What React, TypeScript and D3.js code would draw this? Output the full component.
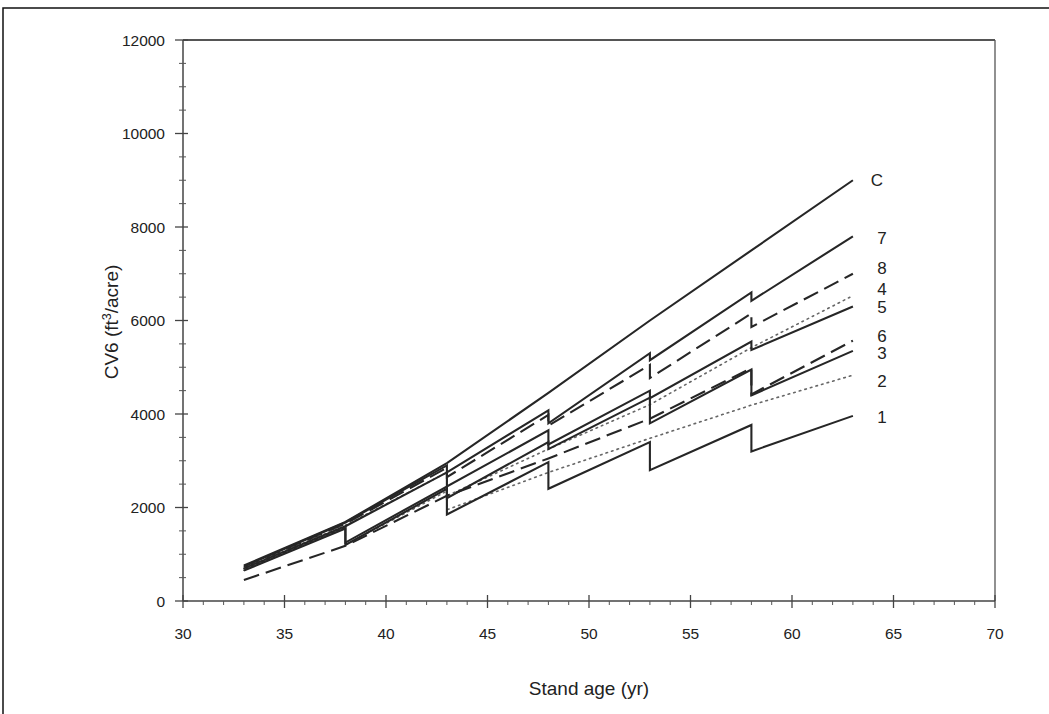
import React from "react";
import * as d3 from "d3";

// Stand age (yr) vs CV6 volume (ft3/acre) for the control stand and eight thinning regimes.
// A repeated age marks a thinning: volume just before and just after removal.
const seriesC: [number, number][] = [[33, 760], [38, 1690], [43, 2950], [48, 4450], [53, 6000], [58, 7500], [63, 9000]];
const series7: [number, number][] = [[33, 740], [38, 1680], [43, 2900], [43, 2750], [48, 4080], [48, 3800], [53, 5300], [53, 5150], [58, 6600], [58, 6420], [63, 7800]];
const series8: [number, number][] = [[33, 720], [38, 1650], [43, 2850], [43, 2650], [48, 3980], [48, 3750], [53, 5050], [53, 4770], [58, 6150], [58, 5860], [63, 7000]];
const series4: [number, number][] = [[33, 700], [38, 1620], [43, 2750], [43, 2250], [48, 3250], [53, 4200], [58, 5420], [63, 6530]];
const series5: [number, number][] = [[33, 690], [38, 1600], [43, 2750], [43, 2450], [48, 3650], [48, 3350], [53, 4500], [53, 4340], [58, 5550], [58, 5370], [63, 6300]];
const series6: [number, number][] = [[33, 450], [38, 1180], [43, 2250], [48, 3050], [53, 3900], [58, 4980], [58, 4420], [63, 5570]];
const series3: [number, number][] = [[33, 680], [38, 1580], [38, 1250], [43, 2450], [43, 2200], [48, 3400], [48, 3250], [53, 4350], [53, 3800], [58, 4950], [58, 4400], [63, 5350]];
const series2: [number, number][] = [[33, 660], [38, 1560], [38, 1200], [43, 2350], [43, 1950], [48, 2750], [53, 3480], [58, 4190], [63, 4830]];
const series1: [number, number][] = [[33, 650], [38, 1550], [38, 1200], [43, 2400], [43, 1850], [48, 2970], [48, 2400], [53, 3400], [53, 2800], [58, 3765], [58, 3200], [63, 3960]];

const seriesNames = ["C", "7", "8", "4", "5", "6", "3", "2", "1"];
const seriesData = [seriesC, series7, series8, series4, series5, series6, series3, series2, series1];
const seriesStyle = ["solid", "solid", "dashed", "dotted", "solid", "dashed", "solid", "dotted", "solid"];

const xTicks = [30, 35, 40, 45, 50, 55, 60, 65, 70];
const yTicks = [0, 2000, 4000, 6000, 8000, 10000, 12000];

const W = 1049;
const H = 714;
const FONT = "Arial, 'Liberation Sans', sans-serif";
const INK = "#262626";
const TEXT = "#222";

// nudges that keep the stacked end labels apart
const labelDy: Record<string, number> = { C: 6, "7": 8, "8": 0, "4": -1, "5": 7, "6": 1, "3": 8, "2": 12, "1": 7 };

export default function App() {
  const x = d3.scaleLinear().domain([30, 70]).range([183, 995]);
  const y = d3.scaleLinear().domain([0, 12000]).range([601, 40]);
  const line = d3
    .line<[number, number]>()
    .x((d) => x(d[0]))
    .y((d) => y(d[1]));

  const xMinor = d3.range(30, 71, 1).filter((v) => v % 5 !== 0);
  const yMinor = d3.range(0, 12001, 500).filter((v) => v % 2000 !== 0);

  const dashFor = (s: string) => (s === "dashed" ? "16 7" : s === "dotted" ? "1.6 4.2" : undefined);

  return (
    <svg
      width={W}
      height={H}
      style={{ position: "absolute", left: 0, top: 0, background: "#fff" }}
      fontFamily={FONT}
    >
      {/* page border */}
      <path d={`M3,${H + 2} V8 H${W + 2}`} fill="none" stroke="#111" strokeWidth={1.5} />

      {/* plot frame */}
      <line x1={x(30)} x2={x(70)} y1={y(12000)} y2={y(12000)} stroke="#555" strokeWidth={2} />
      <line x1={x(70)} x2={x(70)} y1={y(12000)} y2={y(0)} stroke="#555" strokeWidth={1.3} />
      <line x1={x(30)} x2={x(70)} y1={y(0)} y2={y(0)} stroke="#444" strokeWidth={1.5} />
      <line x1={x(30)} x2={x(30)} y1={y(0)} y2={y(12000)} stroke="#444" strokeWidth={1.5} />

      {/* y axis ticks */}
      {yTicks.map((v) => (
        <g key={"yt" + v}>
          <line x1={x(30) - 8} x2={x(30) + 5} y1={y(v)} y2={y(v)} stroke="#444" strokeWidth={1.3} />
          <text x={165} y={y(v) + 5.5} textAnchor="end" fontSize={15.5} fill={TEXT}>
            {v}
          </text>
        </g>
      ))}
      {yMinor.map((v) => (
        <line key={"ym" + v} x1={x(30) - 4} x2={x(30) + 3} y1={y(v)} y2={y(v)} stroke="#555" strokeWidth={1} />
      ))}

      {/* x axis ticks */}
      {xTicks.map((v) => (
        <g key={"xt" + v}>
          <line x1={x(v)} x2={x(v)} y1={y(0) - 6} y2={y(0) + 7} stroke="#444" strokeWidth={1.3} />
          <text x={x(v)} y={639} textAnchor="middle" fontSize={15.5} fill={TEXT}>
            {v}
          </text>
        </g>
      ))}
      {xMinor.map((v) => (
        <line key={"xm" + v} x1={x(v)} x2={x(v)} y1={y(0)} y2={y(0) + 4} stroke="#555" strokeWidth={1} />
      ))}

      {/* axis titles */}
      <text x={589} y={695} textAnchor="middle" fontSize={19} fill={TEXT}>
        Stand age (yr)
      </text>
      <text transform="translate(118,322) rotate(-90)" textAnchor="middle" fontSize={19} fill={TEXT}>
        CV6 (ft
        <tspan fontSize={12.5} dy={-7}>
          3
        </tspan>
        <tspan dy={7}>/acre)</tspan>
      </text>

      {/* series */}
      {seriesData.map((pts, i) => {
        const style = seriesStyle[i];
        return (
          <path
            key={"s" + seriesNames[i]}
            d={line(pts) ?? ""}
            fill="none"
            stroke={style === "dotted" ? "#666" : INK}
            strokeWidth={style === "dotted" ? 1.6 : 2.1}
            strokeDasharray={dashFor(style)}
            strokeLinecap={style === "dotted" ? "round" : "butt"}
            strokeLinejoin="miter"
          />
        );
      })}

      {/* end labels */}
      {seriesData.map((pts, i) => {
        const last = pts[pts.length - 1];
        const name = seriesNames[i];
        return (
          <text
            key={"l" + name}
            x={x(last[0]) + (name === "C" ? 24 : 29)}
            y={y(last[1]) + labelDy[name]}
            textAnchor="middle"
            fontSize={17}
            fill={TEXT}
          >
            {name}
          </text>
        );
      })}
    </svg>
  );
}
